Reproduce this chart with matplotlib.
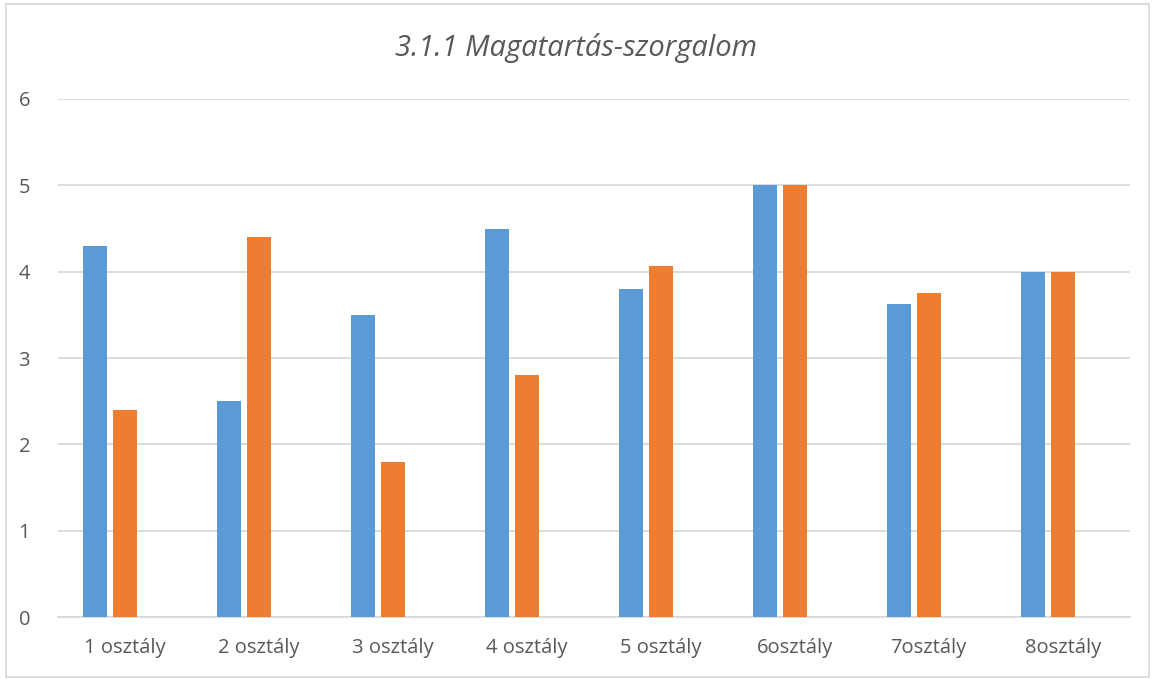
import numpy as np
import matplotlib.pyplot as plt
from matplotlib.patches import Rectangle

# Chart data
categories = ['1 osztály', '2 osztály', '3 osztály', '4 osztály', '5 osztály',
              '6osztály', '7osztály', '8osztály']
series_a = [4.3, 2.5, 3.5, 4.5, 3.8, 5.0, 3.62, 4.0]
series_b = [2.4, 4.4, 1.8, 2.8, 4.07, 5.0, 3.75, 4.0]
series_c = [0, 0, 0, 0, 0, 0, 0, 0]  # empty third series (keeps bar slots)
yticks = [0, 1, 2, 3, 4, 5, 6]

blue = '#5B9BD5'
orange = '#ED7D31'
grid = '#D9D9D9'
text = '#595959'

plt.rcParams['font.family'] = ['Open Sans', 'DejaVu Sans']

fig = plt.figure(figsize=(11.52, 6.79), dpi=100)
ax = fig.add_axes([0.0503, 0.0913, 0.9303, 0.7629])

x = np.arange(len(categories))
w = 0.179
off = 0.224
ax.bar(x - off, series_a, width=w, color=blue, zorder=3)
ax.bar(x, series_b, width=w, color=orange, zorder=3)
ax.bar(x + off, series_c, width=w, color='#A5A5A5', zorder=3)

ax.set_xlim(-0.5, len(categories) - 0.5)
ax.set_ylim(0, 6)
ax.set_yticks(yticks)
ax.set_xticks(x)
ax.set_xticklabels(categories)
ax.yaxis.grid(True, color=grid, linewidth=1.3, zorder=0)
for s in ['top', 'right', 'left']:
    ax.spines[s].set_visible(False)
ax.spines['bottom'].set_color(grid)
ax.spines['bottom'].set_linewidth(1.3)
ax.tick_params(axis='both', length=0, labelsize=14.5, colors=text)
ax.tick_params(axis='y', pad=20)
ax.tick_params(axis='x', pad=15)

fig.text(0.5, 0.929, '3.1.1 Magatartás-szorgalom', ha='center', va='center',
         fontsize=21, style='italic', color=text)

# outer chart border
fig.patches.append(Rectangle((6 / 1152, 2 / 679), 1143 / 1152, 673 / 679,
                             transform=fig.transFigure, fill=False,
                             edgecolor=grid, linewidth=1.3))

fig.savefig('out.png', dpi=100)
